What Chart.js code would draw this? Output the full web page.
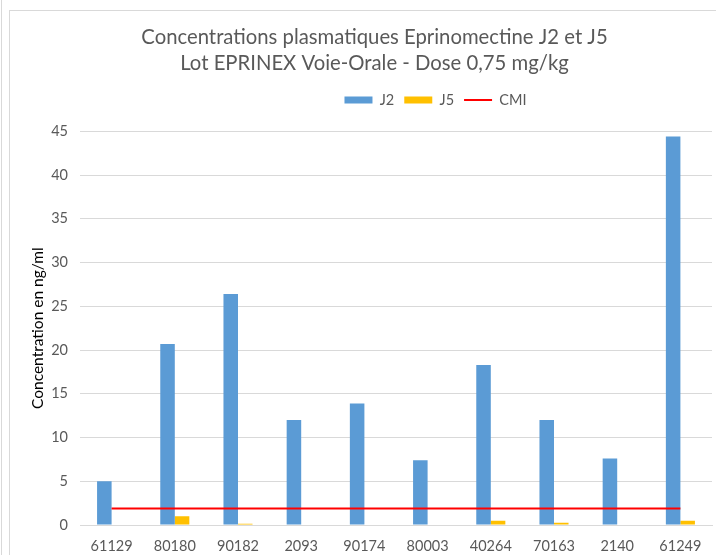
<!DOCTYPE html>
<html>
<head>
<meta charset="utf-8">
<script src="https://cdn.jsdelivr.net/npm/chart.js@4/dist/chart.umd.min.js"></script>
<style>
  html, body { margin: 0; padding: 0; background: #fff; }
  body { width: 716px; height: 555px; position: relative; overflow: hidden; }
  .edge { position: absolute; left: 1px; top: 0; width: 0; height: 555px; border-left: 1px solid #d9d9d9; }
  .frame { position: absolute; left: 9px; top: 10px; right: -5px; bottom: -5px; border-left: 1px solid #d9d9d9; border-top: 1px solid #d9d9d9; }
  .container { position: absolute; left: 0; top: 0; width: 716px; height: 555px; }
</style>
</head>
<body>
<div class="edge"></div>
<div class="frame"></div>
<div class="container"><canvas id="myChart" width="716" height="555"></canvas></div>
<script>
const animals = ["61129", "80180", "90182", "2093", "90174", "80003", "40264", "70163", "2140", "61249"];
const j2Values = [5.0, 20.7, 26.4, 12.0, 13.9, 7.4, 18.3, 12.0, 7.6, 44.4];
const j5Values = [0, 1.0, 0.15, 0, 0, 0, 0.5, 0.25, 0, 0.5];
const cmiValues = [1.9, 1.9, 1.9, 1.9, 1.9, 1.9, 1.9, 1.9, 1.9, 1.9];

const FONT = "Lato, 'Open Sans', sans-serif";
const GREY = "#595959";

const data = {
  labels: animals,
  datasets: [
    {
      type: "bar",
      label: "J2",
      data: j2Values,
      backgroundColor: "#5b9bd5",
      borderWidth: 0,
      categoryPercentage: 0.46,
      barPercentage: 1,
      order: 2,
    },
    {
      type: "bar",
      label: "J5",
      data: j5Values,
      backgroundColor: "#ffc000",
      borderWidth: 0,
      categoryPercentage: 0.46,
      barPercentage: 1,
      order: 2,
    },
    {
      type: "line",
      label: "CMI",
      data: cmiValues,
      borderColor: "#ff0000",
      backgroundColor: "#ff0000",
      borderWidth: 2,
      pointRadius: 0,
      fill: false,
      order: 1,
    },
  ],
};

const legendStyles = ["rect", "rect", "line"];

// extra room under the legend, and shift title / legend to the right like the original
const tweakBoxes = {
  id: "tweakBoxes",
  beforeInit(chart) {
    const fit = chart.legend.fit;
    chart.legend.fit = function () {
      fit.call(this);
      this.height += 14;
    };
  },
  afterLayout(chart) {
    chart.titleBlock.left += 4;
    chart.titleBlock.right += 4;
    chart.legend.left += 65;
    chart.legend.right += 65;
  },
};

const config = {
  data: data,
  plugins: [tweakBoxes],
  options: {
    responsive: false,
    animation: false,
    layout: { padding: { left: 29, right: 4, top: 25, bottom: 1 } },
    scales: {
      x: {
        grid: { display: false, drawTicks: false },
        border: { color: "#d9d9d9" },
        ticks: { color: GREY, font: { family: FONT, size: 14.5 }, padding: 13 },
        afterFit: (scale) => { scale.height = 29; },
      },
      y: {
        min: 0,
        max: 45,
        ticks: { stepSize: 5, color: GREY, font: { family: FONT, size: 14.5 }, padding: 12 },
        grid: { color: "#d9d9d9", drawTicks: false },
        border: { display: false },
        title: {
          display: true,
          text: "Concentration en ng/ml",
          color: "#000",
          font: { family: FONT, size: 15.5 },
          padding: 0,
        },
        afterFit: (scale) => { scale.width = 51; },
      },
    },
    plugins: {
      title: {
        display: true,
        text: ["Concentrations plasmatiques Eprinomectine J2 et J5", "Lot EPRINEX Voie-Orale - Dose 0,75 mg/kg"],
        color: GREY,
        font: { family: FONT, size: 20.3, weight: "normal", lineHeight: 1.25 },
        padding: { top: 0, bottom: 7 },
      },
      legend: {
        labels: {
          color: GREY,
          font: { family: FONT, size: 14.5 },
          usePointStyle: true,
          pointStyleWidth: 28,
          boxHeight: 7,
          padding: 10,
          sort: (a, b) => a.datasetIndex - b.datasetIndex,
          generateLabels: (chart) => {
            const items = Chart.defaults.plugins.legend.labels.generateLabels(chart);
            items.forEach((item) => { item.pointStyle = legendStyles[item.datasetIndex]; });
            return items;
          },
        },
      },
      tooltip: { enabled: false },
    },
  },
};

new Chart(document.getElementById("myChart"), config);
</script>
</body>
</html>
